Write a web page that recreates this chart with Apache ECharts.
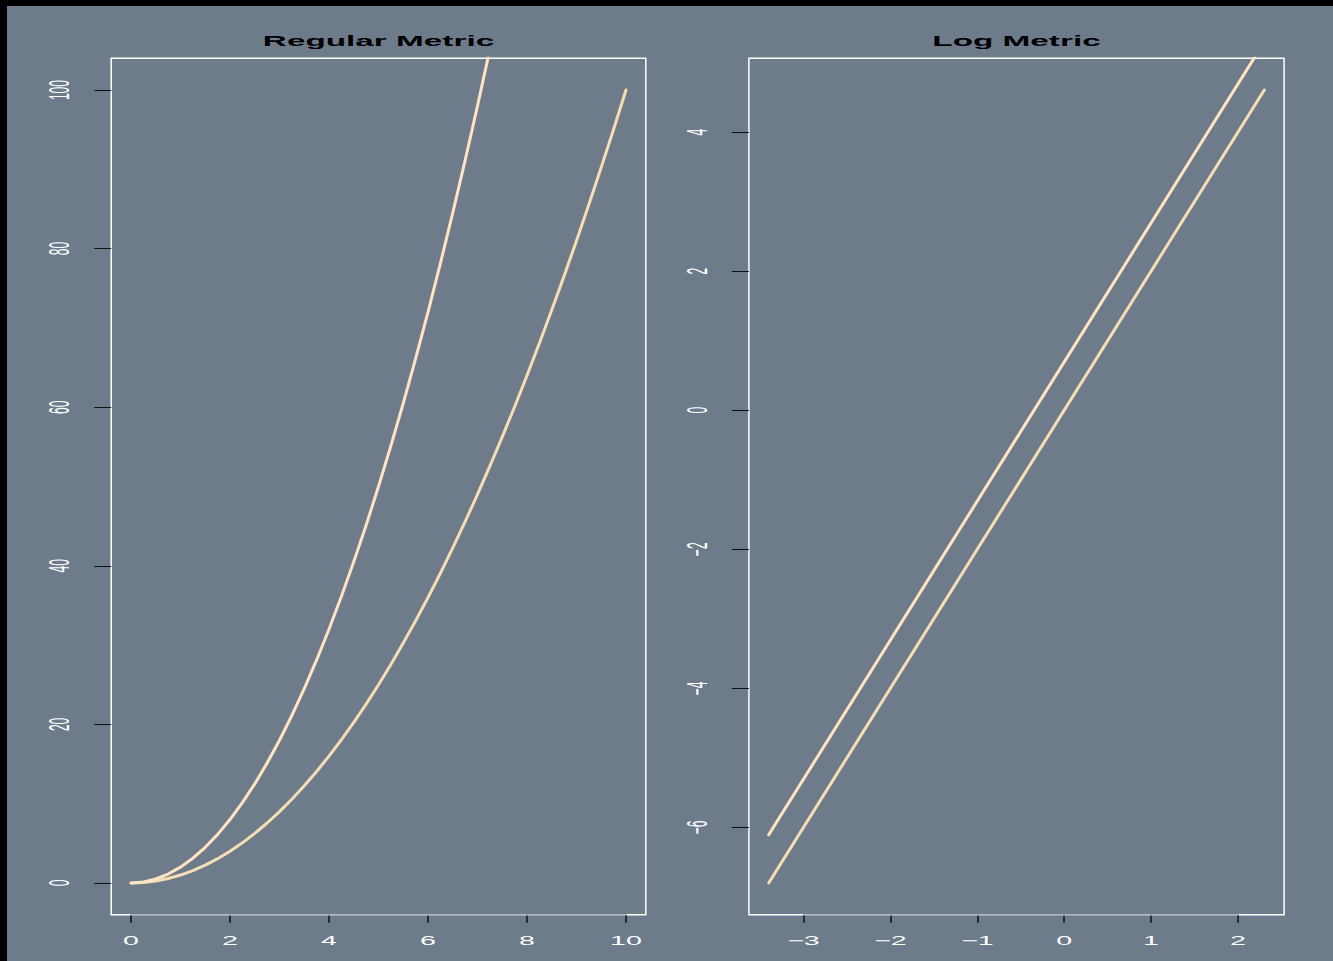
<!DOCTYPE html>
<html>
<head>
<meta charset="utf-8">
<script src="https://cdn.jsdelivr.net/npm/echarts@6/dist/echarts.min.js"></script>
<style>
  html, body { margin: 0; padding: 0; width: 1333px; height: 961px; overflow: hidden; background: #000; }
  #plot { position: absolute; left: 0; top: 0; width: 1333px; height: 961px; background: #6E7B8B; }
  /* text layer: drawn small, then stretched wide like the device output */
  #text { position: absolute; left: 0; top: 0; width: 512px; height: 874px; transform-origin: 0 0; }
  .edge { position: absolute; background: #000; }
</style>
</head>
<body>
<div id="plot"></div>
<div id="text"></div>
<div class="edge" style="left:0;top:0;width:7px;height:961px"></div>
<div class="edge" style="left:0;top:0;width:1333px;height:6px"></div>
<script>
// ---- data: y = x^2 and y = 2x^2 on a regular scale ----
const regX = [0, 0.25, 0.5, 0.75, 1, 1.25, 1.5, 1.75, 2, 2.25, 2.5, 2.75, 3, 3.25, 3.5, 3.75,
  4, 4.25, 4.5, 4.75, 5, 5.25, 5.5, 5.75, 6, 6.25, 6.5, 6.75, 7, 7.25, 7.5, 7.75,
  8, 8.25, 8.5, 8.75, 9, 9.25, 9.5, 9.75, 10];
const regSquare = [0, 0.0625, 0.25, 0.5625, 1, 1.5625, 2.25, 3.0625, 4, 5.0625, 6.25, 7.5625,
  9, 10.5625, 12.25, 14.0625, 16, 18.0625, 20.25, 22.5625, 25, 27.5625, 30.25, 33.0625,
  36, 39.0625, 42.25, 45.5625, 49, 52.5625, 56.25, 60.0625, 64, 68.0625, 72.25, 76.5625,
  81, 85.5625, 90.25, 95.0625, 100];
const regDouble = [0, 0.125, 0.5, 1.125, 2, 3.125, 4.5, 6.125, 8, 10.125, 12.5, 15.125,
  18, 21.125, 24.5, 28.125, 32, 36.125, 40.5, 45.125, 50, 55.125, 60.5, 66.125,
  72, 78.125, 84.5, 91.125, 98, 105.125, 112.5, 120.125, 128, 136.125, 144.5, 153.125,
  162, 171.125, 180.5, 190.125, 200];

// ---- the same two curves on log-log axes ----
const logX = [-3.4, 2.303];
const logSquare = [-6.8, 4.605];
const logDouble = [-6.107, 5.298];

// ---- tick labels ----
const regXTicks = [0, 2, 4, 6, 8, 10];
const regYTicks = [0, 20, 40, 60, 80, 100];
const logXTicks = [-3, -2, -1, 0, 1, 2];
const logYTicks = [-6, -4, -2, 0, 2, 4];
const titles = ['Regular Metric', 'Log Metric'];

// ---- layout (page pixels) ----
const SX = 1333 / 512, SY = 961 / 874;
const frames = [
  { left: 111.2, top: 58.3, width: 534.6, height: 856.4 },
  { left: 748.9, top: 58.3, width: 535.2, height: 856.4 }
];
const ranges = [
  { x: [-0.4, 10.4], y: [-4, 104], xt: regXTicks, yt: regYTicks },
  { x: [-3.628, 2.531], y: [-7.256, 5.061], xt: logXTicks, yt: logYTicks }
];
const UPPER = '#FFE4C4', LOWER = '#F5DEB3';

const pairs = (xs, ys) => xs.map((x, k) => [x, ys[k]]);
const minus = v => String(v).replace('-', '\u2212');

function curve(data, color, i, withAxisLine) {
  const s = {
    type: 'line', xAxisIndex: i, yAxisIndex: i, data: data,
    showSymbol: false, symbol: 'none', clip: true, silent: true,
    lineStyle: { color: color, width: 3, cap: 'round', join: 'round' }
  };
  if (withAxisLine) {
    const r = ranges[i];
    s.markLine = {
      silent: true, symbol: 'none', label: { show: false },
      lineStyle: { color: '#989CA1', width: 1.5, type: 'solid' },
      data: [[{ coord: [r.xt[0], r.y[0]] }, { coord: [r.xt[r.xt.length - 1], r.y[0]] }]]
    };
  }
  return s;
}

// ---- plot layer: frames, ticks, curves ----
const plot = echarts.init(document.getElementById('plot'), null, { renderer: 'svg' });
plot.setOption({
  animation: false,
  grid: frames.map(f => Object.assign({ show: true, borderColor: '#FFFFFF', borderWidth: 1.5 }, f)),
  xAxis: ranges.map((r, i) => ({
    type: 'value', gridIndex: i, min: r.x[0], max: r.x[1],
    splitLine: { show: false }, axisLabel: { show: false },
    axisLine: { show: false, onZero: false },
    axisTick: { show: true, customValues: r.xt, length: 8, lineStyle: { color: '#111', width: 1.5 } }
  })),
  yAxis: ranges.map((r, i) => ({
    type: 'value', gridIndex: i, min: r.y[0], max: r.y[1],
    splitLine: { show: false }, axisLabel: { show: false },
    axisLine: { show: false, onZero: false },
    axisTick: { show: true, customValues: r.yt, length: 17, lineStyle: { color: '#111', width: 1 } }
  })),
  series: [
    curve(pairs(regX, regSquare), LOWER, 0, true),
    curve(pairs(regX, regDouble), UPPER, 0, false),
    curve(pairs(logX, logSquare), LOWER, 1, true),
    curve(pairs(logX, logDouble), UPPER, 1, false)
  ]
});

// ---- text layer: tick labels and titles ----
const textEl = document.getElementById('text');
textEl.style.transform = 'scale(' + SX + ',' + SY + ')';
const txt = echarts.init(textEl, null, { renderer: 'svg' });
const labelFont = { color: '#FFFFFF', fontSize: 11, fontFamily: 'Liberation Sans, Arial, sans-serif' };
txt.setOption({
  animation: false,
  grid: frames.map(f => ({
    show: false, left: f.left / SX, top: f.top / SY, width: f.width / SX, height: f.height / SY
  })),
  xAxis: ranges.map((r, i) => ({
    type: 'value', gridIndex: i, min: r.x[0], max: r.x[1],
    splitLine: { show: false }, axisTick: { show: false },
    axisLine: { show: false, onZero: false },
    axisLabel: Object.assign({ customValues: r.xt, margin: 18.5, formatter: minus, showMinLabel: true, showMaxLabel: true }, labelFont)
  })),
  yAxis: ranges.map((r, i) => ({
    type: 'value', gridIndex: i, min: r.y[0], max: r.y[1],
    splitLine: { show: false }, axisTick: { show: false },
    axisLine: { show: false, onZero: false },
    axisLabel: Object.assign({ customValues: r.yt, margin: 14.5, rotate: 90, formatter: minus, showMinLabel: true, showMaxLabel: true }, labelFont)
  })),
  graphic: titles.map((t, i) => ({
    type: 'text',
    x: (frames[i].left + frames[i].width / 2) / SX,
    y: 37.6,
    style: {
      text: t, align: 'center', verticalAlign: 'middle', fill: '#000000',
      font: 'bold 12.8px "Liberation Sans", Arial, sans-serif'
    }
  }))
});
</script>
</body>
</html>
